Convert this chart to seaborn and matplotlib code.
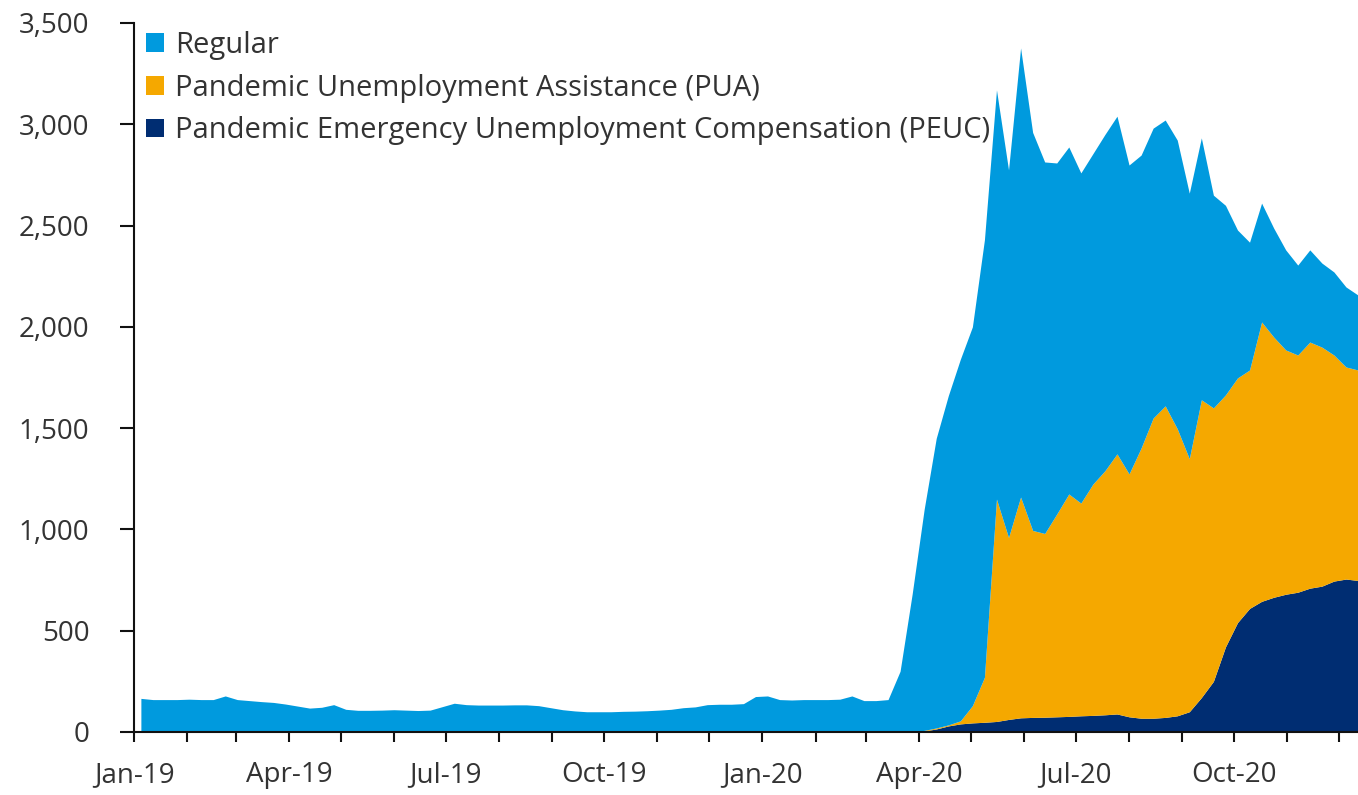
import pandas as pd
import seaborn as sns
import matplotlib.pyplot as plt
import matplotlib.dates as mdates
from matplotlib.ticker import FuncFormatter

# semanas (sabados) desde el 5 de enero de 2019 hasta el 12 de diciembre de 2020
fechas = pd.date_range("2019-01-05", "2020-12-12", freq="7D")

# valores (miles)
regular = [166, 160, 160, 160, 162, 160, 160, 178, 160, 155,
           150, 146, 138, 128, 118, 122, 135, 112, 107, 107,
           108, 110, 108, 106, 108, 125, 142, 135, 133, 133,
           133, 134, 134, 130, 120, 110, 104, 100, 100, 100,
           102, 103, 105, 108, 112, 120, 124, 135, 137, 137,
           140, 175, 178, 160, 158, 160, 160, 160, 162, 178,
           155, 155, 160, 300, 680, 1092, 1430, 1625, 1785, 1870,
           2160, 2020, 1815, 2217, 1965, 1834, 1733, 1713, 1630, 1631,
           1660, 1667, 1525, 1446, 1431, 1411, 1425, 1311, 1293, 1050,
           936, 730, 631, 587, 538, 494, 444, 455, 415, 410,
           395, 370]

pua = [0, 0, 0, 0, 0, 0, 0, 0, 0, 0,
       0, 0, 0, 0, 0, 0, 0, 0, 0, 0,
       0, 0, 0, 0, 0, 0, 0, 0, 0, 0,
       0, 0, 0, 0, 0, 0, 0, 0, 0, 0,
       0, 0, 0, 0, 0, 0, 0, 0, 0, 0,
       0, 0, 0, 0, 0, 0, 0, 0, 0, 0,
       0, 0, 0, 0, 0, 3, 5, 5, 15, 85,
       222, 1098, 898, 1090, 923, 907, 1001, 1098, 1050, 1142,
       1205, 1284, 1199, 1334, 1482, 1538, 1417, 1249, 1470, 1350,
       1244, 1208, 1177, 1379, 1285, 1206, 1171, 1215, 1180, 1116,
       1047, 1039]

peuc = [0, 0, 0, 0, 0, 0, 0, 0, 0, 0,
        0, 0, 0, 0, 0, 0, 0, 0, 0, 0,
        0, 0, 0, 0, 0, 0, 0, 0, 0, 0,
        0, 0, 0, 0, 0, 0, 0, 0, 0, 0,
        0, 0, 0, 0, 0, 0, 0, 0, 0, 0,
        0, 0, 0, 0, 0, 0, 0, 0, 0, 0,
        0, 0, 0, 0, 0, 5, 15, 30, 40, 45,
        48, 52, 62, 70, 72, 73, 75, 77, 80, 82,
        85, 89, 75, 68, 68, 72, 80, 100, 170, 250,
        420, 540, 610, 645, 665, 680, 690, 710, 720, 745,
        755, 748]

etiquetas = ["Regular",
             "Pandemic Unemployment Assistance (PUA)",
             "Pandemic Emergency Unemployment Compensation (PEUC)"]
colores = ["#009ADE", "#F5A800", "#002D72"]

df = pd.DataFrame({"fecha": fechas, "Regular": regular, "PUA": pua, "PEUC": peuc})

sns.set_theme(style="ticks")
plt.rcParams["font.family"] = ["Open Sans", "DejaVu Sans"]

fig = plt.figure(figsize=(13.58, 7.95), dpi=100)
ax = fig.add_axes([134 / 1358, 1 - 732 / 795, 1 - 134 / 1358, (732 - 23) / 795])

# apilado: PEUC abajo, PUA en medio, Regular arriba
polys = ax.stackplot(df["fecha"], df["PEUC"], df["PUA"], df["Regular"],
                     colors=[colores[2], colores[1], colores[0]], linewidth=0)

ax.set_ylim(0, 3500)
ax.set_xlim(pd.Timestamp("2019-01-01"), pd.Timestamp("2020-12-12"))
ax.set_yticks(range(0, 3501, 500))
ax.yaxis.set_major_formatter(FuncFormatter(lambda v, p: f"{int(v):,}"))

ax.xaxis.set_major_locator(mdates.MonthLocator(bymonth=[1, 4, 7, 10]))
ax.xaxis.set_minor_locator(mdates.MonthLocator())
ax.xaxis.set_major_formatter(mdates.DateFormatter("%b-%y"))

sns.despine(ax=ax)
for s in ["left", "bottom"]:
    ax.spines[s].set_linewidth(1.5)
    ax.spines[s].set_color("#111111")

ax.tick_params(axis="y", length=10, width=1.5, pad=22, labelsize=20,
               colors="#111111", labelcolor="#333333")
ax.tick_params(axis="x", which="both", length=7, width=1.5, pad=14,
               labelsize=20, colors="#111111", labelcolor="#333333")

# leyenda en el orden del original
handles = [polys[2], polys[1], polys[0]]
leg = ax.legend(handles, etiquetas, loc="upper left", frameon=False,
                bbox_to_anchor=(146 / 1358, 1 - 31 / 795),
                bbox_transform=fig.transFigure, fontsize=21,
                handlelength=0.6, handleheight=0.6, handletextpad=0.4,
                labelspacing=0.47, borderpad=0, borderaxespad=0)
for t in leg.get_texts():
    t.set_color("#333333")

fig.savefig("out.png", dpi=100)
